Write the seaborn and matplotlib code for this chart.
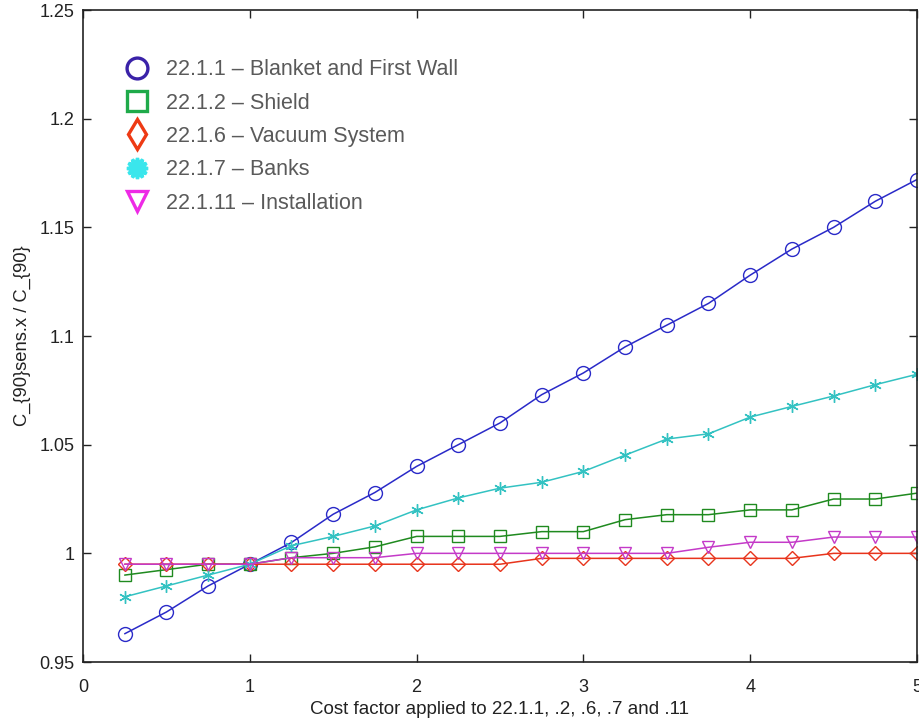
import matplotlib
matplotlib.use("Agg")
import matplotlib.pyplot as plt
import seaborn as sns
import pandas as pd
from matplotlib.lines import Line2D

cost_factor = [0.25, 0.5, 0.75, 1.0, 1.25, 1.5, 1.75, 2.0, 2.25, 2.5,
               2.75, 3.0, 3.25, 3.5, 3.75, 4.0, 4.25, 4.5, 4.75, 5.0]

blanket = [0.963, 0.973, 0.985, 0.995, 1.005, 1.018, 1.028, 1.040, 1.050, 1.060,
           1.073, 1.083, 1.095, 1.105, 1.115, 1.128, 1.140, 1.150, 1.162, 1.172]
shield = [0.990, 0.9925, 0.995, 0.995, 0.998, 1.000, 1.003, 1.0078, 1.0078, 1.0078,
          1.010, 1.010, 1.0155, 1.0178, 1.0178, 1.020, 1.020, 1.025, 1.025, 1.0277]
vacuum = [0.995, 0.995, 0.995, 0.995, 0.995, 0.995, 0.995, 0.995, 0.995, 0.995,
          0.9977, 0.9977, 0.9977, 0.9977, 0.9977, 0.9977, 0.9977, 1.000, 1.000, 1.000]
banks = [0.980, 0.985, 0.990, 0.995, 1.0035, 1.0078, 1.0126, 1.020, 1.0255, 1.030,
         1.0327, 1.0377, 1.0452, 1.0526, 1.055, 1.0627, 1.0676, 1.0724, 1.0776, 1.0824]
installation = [0.995, 0.995, 0.995, 0.995, 0.998, 0.998, 0.998, 1.000, 1.000, 1.000,
                1.000, 1.000, 1.000, 1.000, 1.0028, 1.0051, 1.0051, 1.0075, 1.0075, 1.0075]

series_labels = ["22.1.1 \u2013 Blanket and First Wall",
                 "22.1.2 \u2013 Shield",
                 "22.1.6 \u2013 Vacuum System",
                 "22.1.7 \u2013 Banks",
                 "22.1.11 \u2013 Installation"]
series_values = [blanket, shield, vacuum, banks, installation]
line_colors = ["#2a2ac8", "#1f8a1f", "#e8341c", "#33c2c2", "#c43ac8"]
legend_colors = ["#3a22a8", "#1faa4a", "#ee3a14", "#3ae6ec", "#ee2ae6"]
markers = ["o", "s", "D", (6, 2, 0), "v"]
marker_sizes = [10, 9, 7.5, 9, 9]
legend_markers = ["o", "s", "d", (12, 1, 0), "v"]
legend_fill = ["none", "none", "none", "#3ae6ec", "none"]

x_ticks = [0, 1, 2, 3, 4, 5]
x_tick_labels = ["0", "1", "2", "3", "4", "5"]
y_ticks = [0.95, 1.0, 1.05, 1.1, 1.15, 1.2, 1.25]
y_tick_labels = ["0.95", "1", "1.05", "1.1", "1.15", "1.2", "1.25"]

sns.set_style("white")
plt.rcParams["font.family"] = ["Liberation Sans", "DejaVu Sans"]

fig = plt.figure(figsize=(9.2, 7.21), dpi=100)
ax = fig.add_axes([0.0902, 0.0818, 0.9065, 0.9043])

for vals, lab, col, mk, ms in zip(series_values, series_labels, line_colors, markers, marker_sizes):
    df = pd.DataFrame({"x": cost_factor, "y": vals})
    sns.lineplot(data=df, x="x", y="y", ax=ax, color=col, linewidth=1.1,
                 marker=mk, markersize=ms, markerfacecolor="none",
                 markeredgecolor=col, markeredgewidth=1.0, legend=False)

ax.set_xlim(0, 5)
ax.set_ylim(0.95, 1.25)
ax.set_xticks(x_ticks)
ax.set_xticklabels(x_tick_labels)
ax.set_yticks(y_ticks)
ax.set_yticklabels(y_tick_labels)
ax.tick_params(axis="both", direction="in", length=6, width=1, colors="#222222",
               labelsize=13, top=True, right=True, bottom=True, left=True)
ax.tick_params(axis="x", pad=12)
ax.tick_params(axis="y", pad=6)
for s in ax.spines.values():
    s.set_visible(True)
    s.set_color("#222222")
    s.set_linewidth(1.2)

ax.set_xlabel("Cost factor applied to 22.1.1, .2, .6, .7 and .11", fontsize=13.5, color="#222222", labelpad=4)
ax.set_ylabel("C_{90}sens.x / C_{90}", fontsize=13.2, color="#222222", labelpad=6)

handles = []
for lab, col, mk, fc in zip(series_labels, legend_colors, legend_markers, legend_fill):
    handles.append(Line2D([], [], linestyle="none", marker=mk, markersize=15,
                          markerfacecolor=fc, markeredgecolor=col, markeredgewidth=2.4,
                          label=lab))
leg = ax.legend(handles=handles, loc="upper left", bbox_to_anchor=(0.024, 0.944),
                frameon=False, fontsize=15.5, labelspacing=0.57, handletextpad=0.32,
                borderaxespad=0.2)
for t in leg.get_texts():
    t.set_color("#5a5a5a")

fig.savefig("out.png", dpi=100)
